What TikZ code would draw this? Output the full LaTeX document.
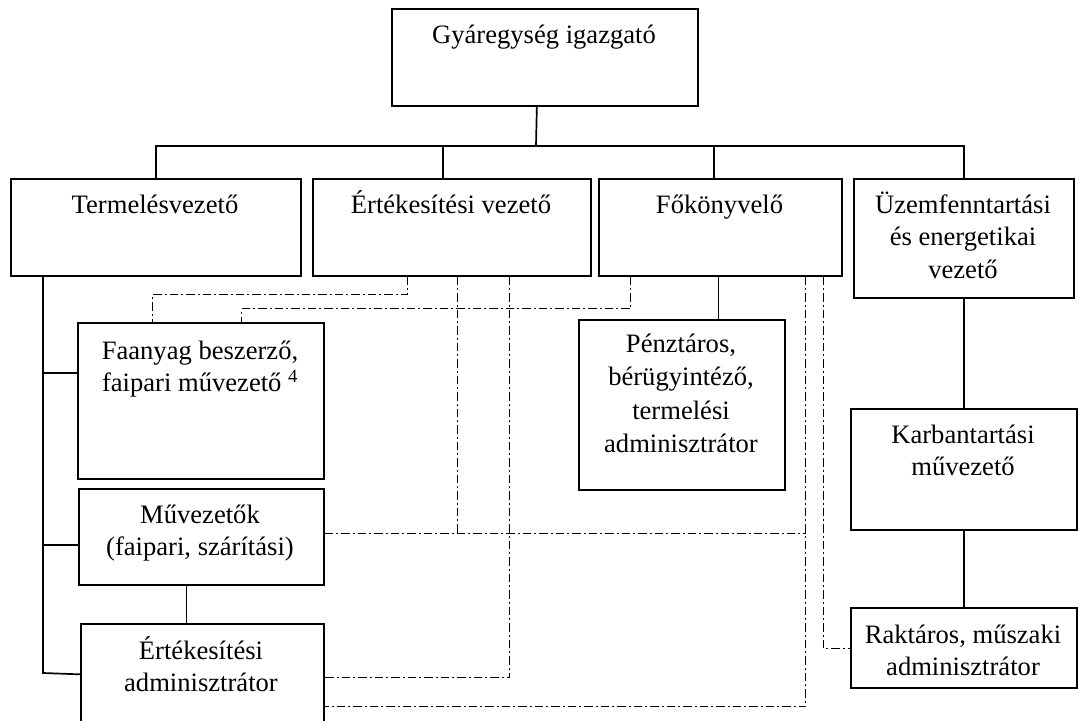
\documentclass[tikz,border=0pt]{standalone}
\usepackage{fontspec}
\setmainfont{Liberation Serif}
\usetikzlibrary{calc}
\tikzset{
  box/.style={draw, line width=1.7pt, anchor=north west, inner sep=0pt},
  lbl/.style={anchor=base, inner sep=0pt, font=\fontsize{26.6}{32.5}\selectfont},
  conn/.style={line width=1.7pt},
  dd/.style={line width=1.1pt, dash pattern=on 8.5pt off 3pt on 2pt off 3pt},
}
\newcommand{\ml}[1]{\parbox[t]{300pt}{\centering #1}}
\begin{document}
\begin{tikzpicture}[x=1pt,y=-1pt]
\clip (0,0) rectangle (1084,720);
\fill[white] (0,0) rectangle (1084,720);
% boxes
\node[box, minimum width=306pt, minimum height=97pt] (top) at (391,8) {};
\node[box, minimum width=290pt, minimum height=97pt] (term) at (10,178) {};
\node[box, minimum width=278pt, minimum height=97pt] (ert) at (312,178) {};
\node[box, minimum width=243pt, minimum height=97pt] (fok) at (598,178) {};
\node[box, minimum width=220pt, minimum height=119pt] (uzem) at (853,178) {};
\node[box, minimum width=246pt, minimum height=156pt] (faanyag) at (77,322) {};
\node[box, minimum width=245pt, minimum height=96pt] (muvez) at (78,488) {};
\node[box, minimum width=243pt, minimum height=101pt] (ertadm) at (80,623) {};
\node[box, minimum width=206pt, minimum height=170pt] (penz) at (578,319) {};
\node[box, minimum width=226pt, minimum height=121pt] (karb) at (850,408) {};
\node[box, minimum width=226pt, minimum height=80pt] (rakt) at (850,607) {};
% texts
\node[lbl] (topT) at (544,43) {Gyáregység igazgató};
\node[lbl] (termT) at (155,213) {Termelésvezető};
\node[lbl] (ertT) at (451,213) {Értékesítési vezető};
\node[lbl] (fokT) at (719.5,213) {Főkönyvelő};
\node[lbl] (uzemT) at (963,213) {\ml{Üzemfenntartási\\ és energetikai\\ vezető}};
\node[lbl] (faanyagT) at (200,359) {\ml{Faanyag beszerző,\\ faipari művezető \textsuperscript{4}}};
\node[lbl] (muvezT) at (200,523) {\ml{Művezetők\\ (faipari, szárítási)}};
\node[lbl] (ertadmT) at (201,659) {\ml{Értékesítési\\ adminisztrátor}};
\node[lbl] (penzT) at (681,352) {\parbox[t]{300pt}{\centering\fontsize{26.6}{33.5}\selectfont Pénztáros,\\ bérügyintéző,\\ termelési\\ adminisztrátor}};
\node[lbl] (karbT) at (963,443) {\ml{Karbantartási\\ művezető}};
\node[lbl] (raktT) at (963,643) {\ml{Raktáros, műszaki\\ adminisztrátor}};
% solid connectors
\coordinate (bus) at (536,146);
\draw[conn] ([xshift=-8pt]top.south) -- (bus);
\draw[conn] (term.north) |- (bus) -| (uzem.north);
\draw[conn] ([xshift=-9pt]ert.north) -- ++(0,-32);
\draw[conn] ([xshift=-6.5pt]fok.north) -- ++(0,-32);
\coordinate (tv) at (43,673);
\draw[conn] (term.south -| tv) -- (tv) -- (ertadm.west);
\draw[conn] ([yshift=28pt]faanyag.west) -- ([yshift=28pt]faanyag.west -| tv);
\draw[conn] ([yshift=-8pt]muvez.west) -- ([yshift=-8pt]muvez.west -| tv);
\draw[conn] ([xshift=-15pt]muvez.south) -- ([xshift=-16pt]ertadm.north);
\draw[conn] ([xshift=-2pt]fok.south) -- ([xshift=-2pt]fok.south |- penz.north);
\draw[conn] (uzem.south) -- (karb.north);
\draw[conn] (karb.south) -- (rakt.north);
% dash-dot connectors
\draw[dd] ([xshift=-44pt]ert.south) -- ++(0,18) -| ([xshift=-48pt]faanyag.north);
\draw[dd] ([xshift=-89.5pt]fok.south) -- ++(0,32) -| ([xshift=41pt]faanyag.north);
\coordinate (m3) at ([yshift=3pt]muvez.east);
\coordinate (e3) at ([xshift=6pt]ert.south);
\draw[dd] (e3) -- (e3 |- m3);
\coordinate (j5) at ([xshift=85.5pt]fok.south);
\draw[dd] (m3) -- (m3 -| j5);
\draw[dd] (j5) |- ([yshift=-32.5pt]ertadm.east);
\draw[dd] ([xshift=58pt]ert.south) |- ([yshift=-3.5pt]ertadm.east);
\draw[dd] ([xshift=103.5pt]fok.south) |- ([yshift=-1pt]rakt.west);
\end{tikzpicture}
\end{document}
